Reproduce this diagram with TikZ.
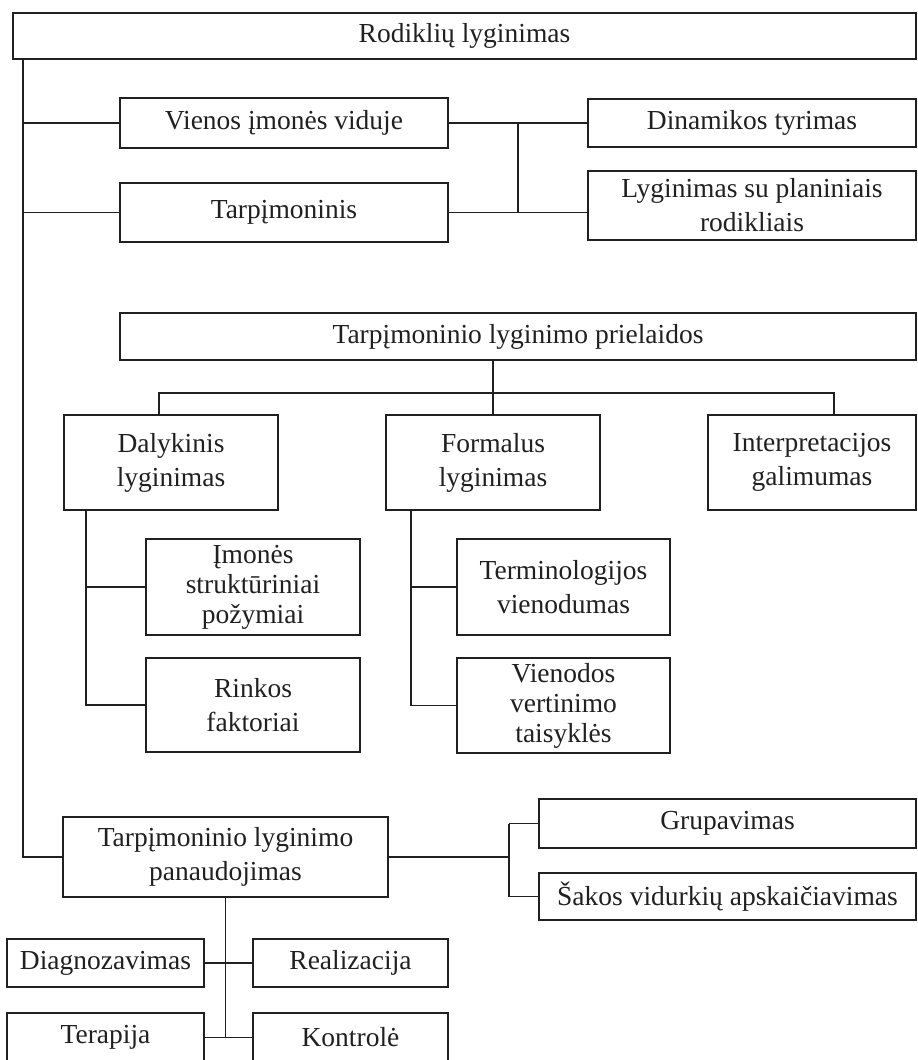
\documentclass[tikz,border=0pt]{standalone}
\usepackage{fontspec}
\setmainfont{Liberation Serif}
\definecolor{ink}{HTML}{202020}
\tikzset{
  box/.style={draw=ink, line width=1.7pt, align=center, inner sep=0pt, rectangle,
    font=\fontsize{27.5}{34}\selectfont, text=ink},
  tribox/.style={box, font=\fontsize{27.5}{30}\selectfont},
  link/.style={draw=ink, line width=1.6pt}
}
\begin{document}
\begin{tikzpicture}[x=1pt,y=-1pt]
\useasboundingbox (0,0) rectangle (918,1060);
% boxes
\node[box, minimum width=903pt, minimum height=46pt] (rod) at (464.5,36) {Rodiklių lyginimas};
\node[box, minimum width=328pt, minimum height=50pt] (vien) at (284,123) {Vienos įmonės viduje};
\node[box, minimum width=328pt, minimum height=59pt] (tarp) at (284,212.5) {Tarpįmoninis};
\node[box, minimum width=328pt, minimum height=48pt] (dina) at (752,123) {Dinamikos tyrimas};
\node[box, minimum width=328pt, minimum height=69pt] (lygi) at (752,205.5) {Lyginimas su planiniais\\rodikliais};
\node[box, minimum width=796pt, minimum height=47pt] (prie) at (518,336.5) {Tarpįmoninio lyginimo prielaidos};
\node[box, minimum width=214pt, minimum height=95pt] (daly) at (171,462.5) {Dalykinis\\lyginimas};
\node[box, minimum width=214pt, minimum height=95pt] (form) at (493,462.5) {Formalus\\lyginimas};
\node[box, minimum width=208pt, minimum height=95pt] (inte) at (812,462.5) {Interpretacijos\\galimumas};
\node[tribox, minimum width=214pt, minimum height=96pt] (imon) at (253,587) {Įmonės\\struktūriniai\\požymiai};
\node[box, minimum width=214pt, minimum height=94pt] (rink) at (253,705) {Rinkos\\faktoriai};
\node[box, minimum width=213pt, minimum height=96pt] (term) at (563.5,587) {Terminologijos\\vienodumas};
\node[tribox, minimum width=213pt, minimum height=95pt] (vieno) at (563.5,705.5) {Vienodos\\vertinimo\\taisyklės};
\node[box, minimum width=325pt, minimum height=80pt] (pana) at (225.5,857) {Tarpįmoninio lyginimo\\panaudojimas};
\node[box, minimum width=377pt, minimum height=49pt] (grup) at (727.5,823.5) {Grupavimas};
\node[box, minimum width=377pt, minimum height=47pt] (sako) at (727.5,896.5) {Šakos vidurkių apskaičiavimas};
\node[box, minimum width=197pt, minimum height=48pt] (diag) at (105.5,963) {Diagnozavimas};
\node[box, minimum width=195pt, minimum height=48pt] (real) at (350.5,963) {Realizacija};
\node[box, minimum width=197pt, minimum height=49pt] (tera) at (105.5,1037.5) {Terapija};
\node[box, minimum width=195pt, minimum height=49pt] (kont) at (350.5,1037.5) {Kontrolė};
% main trunk
\coordinate (mv) at ([xshift=11pt]rod.south west);
\draw[link] (mv) |- (pana.west);
\draw[link] (mv |- vien.west) -- (vien.west);
\draw[link] (mv |- tarp.west) -- (tarp.west);
% junction between first level and right column
\coordinate (j) at (518,0);
\draw[link] (vien.east) -- (dina.west);
\draw[link] (tarp.east) -- (lygi.west |- tarp.east);
\draw[link] (j |- vien.east) -- (j |- tarp.east);
% prielaidos
\coordinate (bar) at (0,393);
\draw[link] (form.north |- prie.south) -- (form.north);
\draw[link] ([xshift=-12pt]daly.north) |- ([xshift=22pt]inte.north |- bar) -- ([xshift=22pt]inte.north);
% dalykinis branch
\coordinate (ds) at ([xshift=23pt]daly.south west);
\draw[link] (ds) |- (rink.west);
\draw[link] (ds |- imon.west) -- (imon.west);
% formalus branch
\coordinate (fs) at ([xshift=26pt]form.south west);
\draw[link] (fs) |- (vieno.west);
\draw[link] (fs |- term.west) -- (term.west);
% panaudojimas right
\coordinate (pb) at (509,0);
\draw[link] (pana.east) -- (pb |- pana.east);
\draw[link] (pb |- grup.west) -- (grup.west);
\draw[link] (pb |- grup.west) -- (pb |- sako.west) -- (sako.west);
% panaudojimas down
\draw[link] (pana.south) -- (pana.south |- tera.east);
\draw[link] (diag.east) -- (real.west);
\draw[link] (tera.east) -- (kont.west);
\end{tikzpicture}
\end{document}
